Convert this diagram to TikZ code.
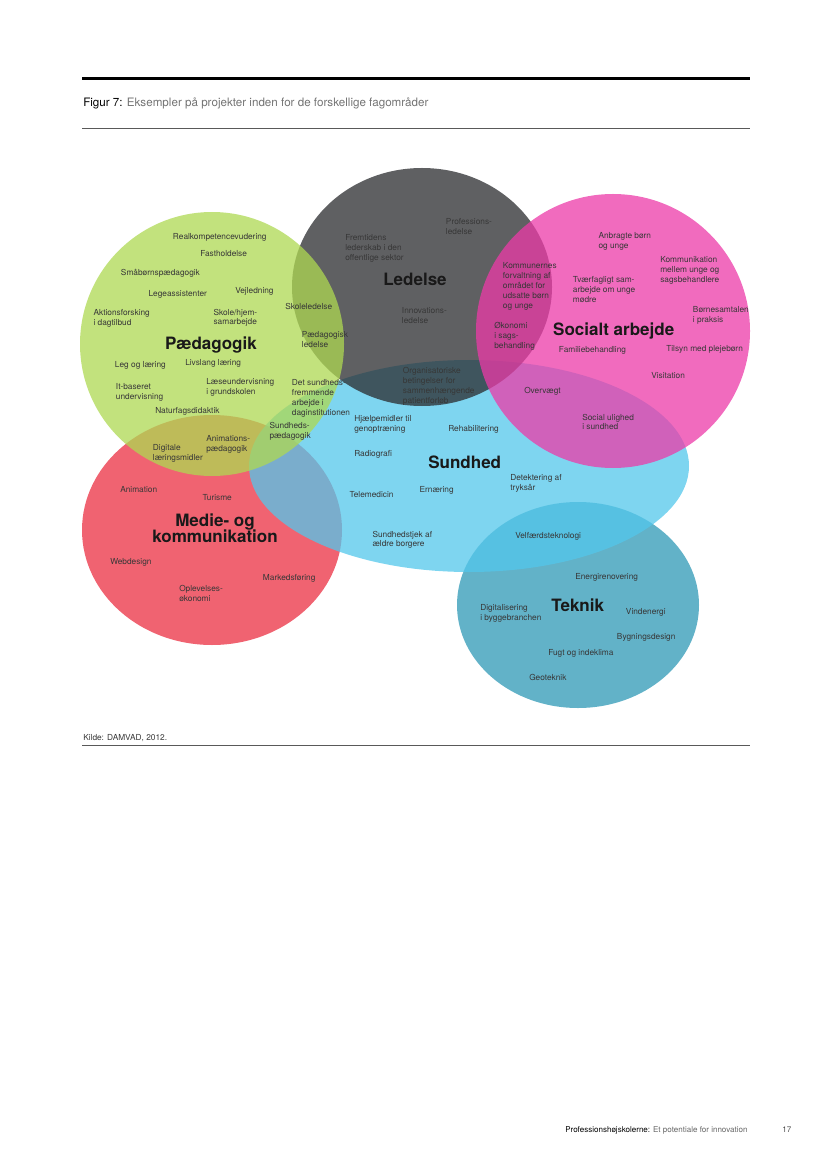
\documentclass[tikz,border=0pt]{standalone}
\usepackage{fontspec}
\setmainfont{TeX Gyre Heros}
\usepackage{tikz}
\usetikzlibrary{positioning}

\definecolor{paedgreen}{RGB}{174,216,82}
\definecolor{ledgrey}{RGB}{42,43,46}
\definecolor{socpink}{RGB}{236,58,168}
\definecolor{sundblue}{RGB}{83,199,235}
\definecolor{mediered}{RGB}{235,47,66}
\definecolor{tekteal}{RGB}{46,152,182}
\definecolor{txtgrey}{RGB}{55,55,55}

\begin{document}
\begin{tikzpicture}[x=0.254mm, y=-0.254mm,
  area/.style={fill opacity=0.75},
  lbl/.style={font=\fontsize{6}{7.2}\selectfont, text=txtgrey, align=left,
    anchor=north west, inner sep=0pt, yshift=0.8mm},
  head/.style={font=\fontsize{12.3}{12}\selectfont\bfseries, text=black!90,
    align=center, inner sep=0pt}]
  \useasboundingbox (0,0) rectangle (827,1169);

  % ---- Rules and caption ----
  \draw[line width=0.76mm] (82,79) -- (750,79);
  \draw[line width=0.25mm, black!65] (82,128) -- (750,128);
  \draw[line width=0.25mm, black!65] (82,745) -- (750,745);
  \node[font=\fontsize{8.4}{10}\selectfont, anchor=west, inner sep=0pt] (cap) at (83,103)
    {Figur 7: \textcolor{black!55}{Eksempler på projekter inden for de forskellige fagområder}};
  \node[font=\fontsize{6}{7.2}\selectfont, anchor=west, inner sep=0pt, text=txtgrey] (src) at (83,738) {Kilde: DAMVAD, 2012.};

  % ---- Subject areas ----
  \fill[mediered, area] (212,530) ellipse (130 and 115);
  \fill[tekteal, area] (578,605) ellipse (121 and 103);
  \fill[sundblue, area] (469,466) ellipse (220 and 106);
  \fill[ledgrey, area] (422,287) ellipse (130 and 119);
  \fill[paedgreen, area] (212,344) ellipse (132 and 132);
  \fill[socpink, area] (613,331) ellipse (137 and 137);

  % ---- Paedagogik ----
  \node[head] (paed) at (211,345) {Pædagogik};
  \node[lbl] (pa1) at (172.7,236.7) {Realkompetencevudering};
  \node[lbl] (pa2) at (200,253.3) {Fastholdelse};
  \node[lbl] (pa3) at (120.7,272.3) {Småbørnspædagogik};
  \node[lbl] (pa4) at (148.3,293.3) {Legeassistenter};
  \node[lbl] (pa5) at (235,290.3) {Vejledning};
  \node[lbl] (pa6) at (93.3,312) {Aktionsforsking\\i dagtilbud};
  \node[lbl] (pa7) at (213.3,311.7) {Skole/hjem-\\samarbejde};
  \node[lbl] (pa8) at (285,306) {Skoleledelse};
  \node[lbl] (pa9) at (301.7,334.7) {Pædagogisk\\ledelse};
  \node[lbl] (pa10) at (114.7,364.3) {Leg og læring};
  \node[lbl] (pa11) at (185,362.7) {Livslang læring};
  \node[lbl] (pa12) at (206,381) {Læseundervisning\\i grundskolen};
  \node[lbl] (pa13) at (115.7,386) {It-baseret\\undervisning};
  \node[lbl] (pa14) at (291.7,382.7) {Det sundheds-\\fremmende\\arbejde i\\daginstitutionen};
  \node[lbl] (pa15) at (155,410.3) {Naturfagsdidaktik};
  \node[lbl] (pa16) at (269.3,425) {Sundheds-\\pædagogik};
  \node[lbl] (pa17) at (206,438.3) {Animations-\\pædagogik};
  \node[lbl] (pa18) at (152.7,447.7) {Digitale\\læringsmidler};

  % ---- Ledelse ----
  \node[head] (led) at (415,279.3) {Ledelse};
  \node[lbl] (le1) at (445.7,221.7) {Professions-\\ledelse};
  \node[lbl] (le2) at (345,237.7) {Fremtidens\\lederskab i den\\offentlige sektor};
  \node[lbl] (le3) at (401.7,310) {Innovations-\\ledelse};
  \node[lbl] (le4) at (402.7,370) {Organisatoriske\\betingelser for\\sammenhængende\\patientforløb};

  % ---- Socialt arbejde ----
  \node[head] (soc) at (613.7,330.7) {Socialt arbejde};
  \node[lbl] (so1) at (598.3,235) {Anbragte børn\\og unge};
  \node[lbl] (so2) at (660,259) {Kommunikation\\mellem unge og\\sagsbehandlere};
  \node[lbl] (so3) at (502.7,265.7) {Kommunernes\\forvaltning af\\området for\\udsatte børn\\og unge};
  \node[lbl] (so4) at (572.7,279.3) {Tværfagligt sam-\\arbejde om unge\\mødre};
  \node[lbl] (so5) at (692.7,309) {Børnesamtalen\\i praksis};
  \node[lbl] (so6) at (494,325) {Økonomi\\i sags-\\behandling};
  \node[lbl] (so7) at (558.7,349.7) {Familiebehandling};
  \node[lbl] (so8) at (666,348.7) {Tilsyn med plejebørn};
  \node[lbl] (so9) at (651,375.7) {Visitation};
  \node[lbl] (so10) at (524,390) {Overvægt};
  \node[lbl] (so11) at (582,416.7) {Social ulighed\\i sundhed};

  % ---- Sundhed ----
  \node[head] (sund) at (464.7,462.7) {Sundhed};
  \node[lbl] (su1) at (354,418) {Hjælpemidler til\\genoptræning};
  \node[lbl] (su2) at (448,428.7) {Rehabilitering};
  \node[lbl] (su3) at (354,453.3) {Radiografi};
  \node[lbl] (su4) at (510,477.3) {Detektering af\\tryksår};
  \node[lbl] (su5) at (419.3,489.3) {Ernæring};
  \node[lbl] (su6) at (349.3,494.3) {Telemedicin};
  \node[lbl] (su7) at (372.3,533.7) {Sundhedstjek af\\ældre borgere};
  \node[lbl] (su8) at (515,535) {Velfærdsteknologi};

  % ---- Medie- og kommunikation ----
  \node[head] (med) at (215,528.3) {Medie- og\\kommunikation};
  \node[lbl] (me1) at (120,489.3) {Animation};
  \node[lbl] (me2) at (202.3,497.3) {Turisme};
  \node[lbl] (me3) at (110,561.7) {Webdesign};
  \node[lbl] (me4) at (262.7,577) {Markedsføring};
  \node[lbl] (me5) at (179,588) {Oplevelses-\\økonomi};

  % ---- Teknik ----
  \node[head] (tek) at (577.7,605.3) {Teknik};
  \node[lbl] (te1) at (575,576.7) {Energirenovering};
  \node[lbl] (te2) at (480,607.7) {Digitalisering\\i byggebranchen};
  \node[lbl] (te3) at (625.7,611) {Vindenergi};
  \node[lbl] (te4) at (616.7,636.7) {Bygningsdesign};
  \node[lbl] (te5) at (548,652.3) {Fugt og indeklima};
  \node[lbl] (te6) at (529,677.3) {Geoteknik};

  % ---- Page footer ----
  \node[font=\fontsize{5.8}{7}\selectfont, anchor=west, inner sep=0pt] (foot) at (565,1130)
    {Professionshøjskolerne: \textcolor{black!60}{Et potentiale for innovation}};
  \node[font=\fontsize{5.8}{7}\selectfont, anchor=west, inner sep=0pt, text=black!70] (pg) at (782,1130) {17};
\end{tikzpicture}
\end{document}
